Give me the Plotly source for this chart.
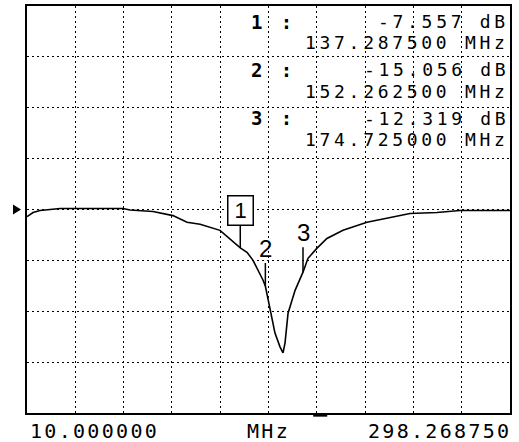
import plotly.graph_objects as go

# ---- data ----
freq_mhz = [10.0, 13.6, 17.8, 29.7, 47.6, 67.3, 71.5, 85.2, 97.1, 105.5, 113.3, 125.2,
            137.2875, 141.3, 144.9, 147.9, 150.9, 152.2625, 155.0, 158.0, 161.0, 162.8,
            164.0, 165.8, 170.0, 174.725, 177.7, 183.1, 189.0, 198.6, 212.9, 226.6,
            238.6, 254.7, 268.4, 284.5, 298.26875]
level_db = [-1.4, -0.6, -0.2, 0.2, 0.2, 0.2, -0.1, -0.4, -1.2, -2.5, -2.9, -4.1,
            -7.557, -8.4, -10.0, -11.9, -13.9, -15.056, -19.8, -24.3, -27.0, -28.2,
            -26.2, -20.4, -15.9, -12.319, -9.6, -7.6, -5.7, -4.1, -2.5, -1.6,
            -0.8, -0.6, -0.2, -0.2, -0.2]

marker_ids = ["1", "2", "3"]
marker_freq = [137.2875, 152.2625, 174.725]
marker_db = [-7.557, -15.056, -12.319]
marker_db_text = ["-7.557 dB", "-15.056 dB", "-12.319 dB"]
marker_freq_text = ["137.287500 MHz", "152.262500 MHz", "174.725000 MHz"]

x_start, x_stop = 10.0, 298.26875
x_labels = ["10.000000", "MHz", "298.268750"]
y_min, y_max, y_div = -40, 40, 10
ref_level = 0
center_mark_freq = 185.0

# ---- figure ----
fig = go.Figure()
fig.add_trace(go.Scatter(x=freq_mhz, y=level_db, mode="lines",
                         line=dict(color="black", width=1.6), hoverinfo="skip"))

span = x_stop - x_start
fig.update_xaxes(range=[x_start, x_stop], dtick=span / 10, tick0=x_start,
                 showgrid=True, gridcolor="black", gridwidth=1, griddash="2px,3px",
                 showline=True, linecolor="black", linewidth=2, mirror=True,
                 showticklabels=False, ticks="", zeroline=False)
fig.update_yaxes(range=[y_min, y_max], dtick=y_div, tick0=y_min,
                 showgrid=True, gridcolor="black", gridwidth=1, griddash="2px,3px",
                 showline=True, linecolor="black", linewidth=2, mirror=True,
                 showticklabels=False, ticks="", zeroline=False)

MONO = "DejaVu Sans Mono"
annotations = []
row_y = [[0.9609, 0.9095], [0.8435, 0.7897], [0.7237, 0.6724]]
for i, mid in enumerate(marker_ids):
    annotations.append(dict(xref="paper", yref="paper", x=0.4617, y=row_y[i][0],
                            xanchor="left", yanchor="middle", showarrow=False, borderpad=0,
                            text=f'<b><span style="letter-spacing:3.4px">{mid} :</span></b>',
                            font=dict(family=MONO, size=19, color="black")))
    annotations.append(dict(xref="paper", yref="paper", x=0.9938, y=row_y[i][0],
                            xanchor="right", yanchor="middle", showarrow=False, borderpad=0,
                            xshift=3,
                            text=f'<span style="letter-spacing:3.7px">{marker_db_text[i]}</span>',
                            font=dict(family=MONO, size=18, color="black")))
    annotations.append(dict(xref="paper", yref="paper", x=0.9938, y=row_y[i][1],
                            xanchor="right", yanchor="middle", showarrow=False, borderpad=0,
                            xshift=3,
                            text=f'<span style="letter-spacing:3.7px">{marker_freq_text[i]}</span>',
                            font=dict(family=MONO, size=18, color="black")))

# marker flags
marker_ay = [-37, -38, -40]
for i, mid in enumerate(marker_ids):
    a = dict(x=marker_freq[i], y=marker_db[i], xref="x", yref="y", text=mid,
             showarrow=True, arrowhead=0, arrowwidth=1.5, arrowcolor="black",
             ax=0, ay=marker_ay[i],
             font=dict(family="Liberation Sans", size=24, color="black"))
    if i == 0:
        a.update(bordercolor="black", borderwidth=1.5, borderpad=1, width=22, height=26,
                 bgcolor="white", font=dict(family="Liberation Sans", size=22, color="black"))
    annotations.append(a)

# bottom labels
bottom_y = -0.044
annotations.append(dict(xref="paper", yref="paper", x=0.0, y=bottom_y, xanchor="left",
                        yanchor="middle", showarrow=False, borderpad=0, xshift=2,
                        text=f'<span style="letter-spacing:2.3px">{x_labels[0]}</span>',
                        font=dict(family=MONO, size=20, color="black")))
annotations.append(dict(xref="paper", yref="paper", x=0.501, y=bottom_y, xanchor="center",
                        yanchor="middle", showarrow=False, borderpad=0,
                        text=f'<span style="letter-spacing:2.3px">{x_labels[1]}</span>',
                        font=dict(family=MONO, size=20, color="black")))
annotations.append(dict(xref="paper", yref="paper", x=1.0, y=bottom_y, xanchor="right",
                        yanchor="middle", showarrow=False, borderpad=0, xshift=2,
                        text=f'<span style="letter-spacing:2.3px">{x_labels[2]}</span>',
                        font=dict(family=MONO, size=20, color="black")))

shapes = [
    # reference level arrow
    dict(type="path", xref="paper", yref="y",
         path=f"M -0.029,{ref_level + 1} L -0.0124,{ref_level} L -0.029,{ref_level - 1} Z",
         fillcolor="black", line=dict(color="black", width=0)),
    # small mark on bottom axis
    dict(type="rect", xref="x", yref="paper", x0=center_mark_freq - 4.2,
         x1=center_mark_freq + 4.2, y0=-0.009, y1=0.0,
         fillcolor="black", line=dict(color="black", width=0)),
]

fig.update_layout(width=519, height=442, margin=dict(l=27, r=9, t=4, b=29),
                  paper_bgcolor="white", plot_bgcolor="white", showlegend=False,
                  annotations=annotations, shapes=shapes)

fig.write_html("out.html")
